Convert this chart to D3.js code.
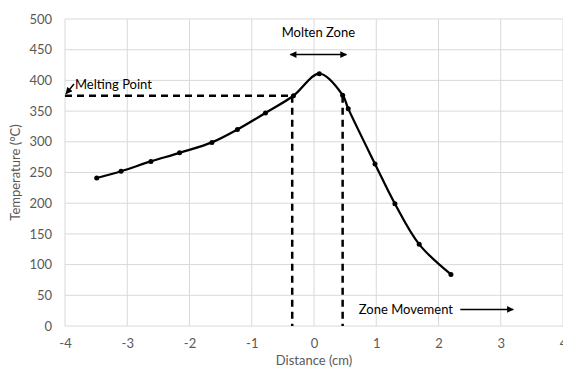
<!DOCTYPE html>
<html><head><meta charset="utf-8">
<script src="https://cdn.jsdelivr.net/npm/d3@7"></script>
<style>body{margin:0;background:#fff}svg{display:block}text{font-family:Lato,"Open Sans",sans-serif}</style>
</head><body><svg id="c" width="563" height="370"></svg>
<script>
const xTicks = [-4,-3,-2,-1,0,1,2,3,4];
const yTicks = [0,50,100,150,200,250,300,350,400,450,500];
const distance = [-3.49,-3.1,-2.62,-2.16,-1.64,-1.23,-0.78,-0.33,0.085,0.46,0.55,0.98,1.30,1.69,2.20];
const temperature = [241,252,268,282,299,320,347,375,411,376,354,264,199,133,84];
const meltingPoint = 375;
const zoneStart = -0.35, zoneEnd = 0.46;
const moltenArrow = [-0.38, 0.52];
const moltenArrowY = 442;
const zoneArrow = [2.35, 3.2];
const zoneArrowY = 27;

const svg = d3.select("#c");
const x = d3.scaleLinear().domain([-4,4]).range([65,563]);
const y = d3.scaleLinear().domain([0,500]).range([326,19]);
const grid = "#d9d9d9", txt = "#595959";

svg.append("defs").append("marker").attr("id","ah").attr("viewBox","0 0 10 10")
  .attr("refX",9).attr("refY",5).attr("markerWidth",5).attr("markerHeight",4.5)
  .attr("orient","auto-start-reverse").append("path").attr("d","M0,0L10,5L0,10z").attr("fill","#000");

// gridlines
svg.append("g").selectAll("line").data(yTicks).join("line")
  .attr("x1",x(-4)).attr("x2",x(4)).attr("y1",d=>y(d)).attr("y2",d=>y(d))
  .attr("stroke",grid).attr("stroke-width",1);
svg.append("g").selectAll("line").data(xTicks).join("line")
  .attr("y1",y(0)).attr("y2",y(500)).attr("x1",d=>x(d)).attr("x2",d=>x(d))
  .attr("stroke",grid).attr("stroke-width",1);

// axes tick labels
const yAxis = d3.axisLeft(y).tickValues(yTicks).tickSize(0).tickPadding(13);
const gy = svg.append("g").attr("transform",`translate(${x(-4)},0)`).call(yAxis);
gy.select(".domain").remove();
gy.selectAll("text").attr("font-size",13).attr("fill",txt).style("font-family","Lato,'Open Sans',sans-serif");
const xAxis = d3.axisBottom(x).tickValues(xTicks).tickSize(0).tickPadding(13).tickFormat(d=>d);
const gx = svg.append("g").attr("transform",`translate(0,${y(0)})`).call(xAxis);
gx.select(".domain").remove();
gx.selectAll("text").attr("font-size",13).attr("fill",txt).style("font-family","Lato,'Open Sans',sans-serif");

svg.append("text").attr("transform",`translate(20,${(y(0)+y(500))/2}) rotate(-90)`)
  .attr("text-anchor","middle").attr("font-size",13).attr("fill",txt).text("Temperature (°C)");
svg.append("text").attr("x",x(0)).attr("y",365).attr("text-anchor","middle")
  .attr("font-size",13).attr("fill",txt).text("Distance (cm)");

// dashed lines
const dash = {"stroke":"#000","stroke-width":2.5,"stroke-dasharray":"7,5","fill":"none"};
function dl(x1,y1,x2,y2){const l=svg.append("line").attr("x1",x1).attr("y1",y1).attr("x2",x2).attr("y2",y2);for(const k in dash)l.attr(k,dash[k]);}
dl(x(-4),y(meltingPoint),x(zoneStart),y(meltingPoint));
dl(x(zoneStart),y(meltingPoint),x(zoneStart),y(0));
dl(x(zoneEnd),y(meltingPoint),x(zoneEnd),y(0));

// data line
const pts = distance.map((d,i)=>[d,temperature[i]]);
svg.append("path").datum(pts)
  .attr("d",d3.line().x(d=>x(d[0])).y(d=>y(d[1])).curve(d3.curveCatmullRom.alpha(0.5)))
  .attr("fill","none").attr("stroke","#000").attr("stroke-width",2.25);
svg.append("g").selectAll("circle").data(pts).join("circle")
  .attr("cx",d=>x(d[0])).attr("cy",d=>y(d[1])).attr("r",2.5).attr("fill","#000");

// annotations
svg.append("line").attr("x1",x(moltenArrow[0])).attr("x2",x(moltenArrow[1]))
  .attr("y1",y(moltenArrowY)).attr("y2",y(moltenArrowY)).attr("stroke","#000").attr("stroke-width",1.5)
  .attr("marker-start","url(#ah)").attr("marker-end","url(#ah)");
svg.append("text").attr("x",(x(moltenArrow[0])+x(moltenArrow[1]))/2).attr("y",y(470)).attr("text-anchor","middle")
  .attr("font-size",13).attr("fill","#000").text("Molten Zone");

svg.append("line").attr("x1",74).attr("y1",84).attr("x2",x(-4)+1).attr("y2",y(meltingPoint)-2)
  .attr("stroke","#000").attr("stroke-width",1.5).attr("marker-end","url(#ah)");
svg.append("text").attr("x",75).attr("y",89).attr("font-size",13).attr("fill","#000").text("Melting Point");

svg.append("text").attr("x",x(0.72)).attr("y",y(zoneArrowY)+4.5).attr("font-size",13).attr("fill","#000").text("Zone Movement");
svg.append("line").attr("x1",x(zoneArrow[0])).attr("x2",x(zoneArrow[1]))
  .attr("y1",y(zoneArrowY)).attr("y2",y(zoneArrowY)).attr("stroke","#000").attr("stroke-width",1.5)
  .attr("marker-end","url(#ah)");
</script></body></html>
